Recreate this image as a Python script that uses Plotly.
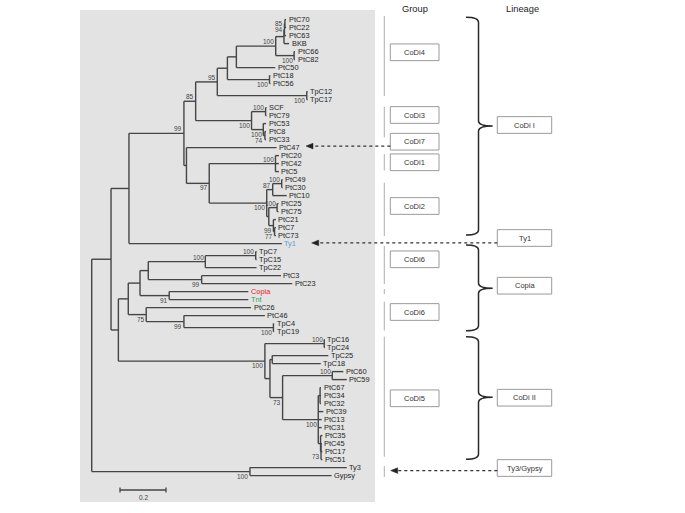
import plotly.graph_objects as go

# ---------------- data ----------------
leaf_names = ["PtC70", "PtC22", "PtC63", "BKB", "PtC66", "PtC82", "PtC50", "PtC18", "PtC56",
              "TpC12", "TpC17", "SCF", "PtC79", "PtC53", "PtC8", "PtC33", "PtC47", "PtC20",
              "PtC42", "PtC5", "PtC49", "PtC30", "PtC10", "PtC25", "PtC75", "PtC21", "PtC7",
              "PtC73", "Ty1", "TpC7", "TpC15", "TpC22", "PtC3", "PtC23", "Copia", "Tnt",
              "PtC26", "PtC46", "TpC4", "TpC19", "TpC16", "TpC24", "TpC25", "TpC18", "PtC60",
              "PtC59", "PtC67", "PtC34", "PtC32", "PtC39", "PtC13", "PtC31", "PtC35", "PtC45",
              "PtC17", "PtC51", "Ty3", "Gypsy"]
leaf_parent = ["n85b", "n85b", "n94", "nBKB", "n66", "n66", "n95b", "n18", "n18",
               "n12", "n12", "nSCF", "nSCF", "n53", "n833", "n833", "n47", "nC1",
               "nC1", "nC1", "n4930", "n4930", "n87", "n2575", "n2575", "n99b", "n77",
               "n77", "nTy1g", "nTp715", "nTp715", "nTp100", "nPt323", "nPt323", "nCT", "nCT",
               "n75", "n99c", "nTp419", "nTp419", "nTp1624", "nTp1624", "nTp2518", "nTp2518", "n6059",
               "n6059", "nP1", "nP1", "nP1", "nP", "nP", "nP", "nP3", "nP2",
               "nP2", "nP2", "nTy3G", "nTy3G"]
# distance of each tip from the root (substitutions per site)
leaf_depth = [0.845, 0.845, 0.845, 0.858, 0.884, 0.884, 0.798, 0.777, 0.777,
              0.939, 0.939, 0.760, 0.760, 0.758, 0.758, 0.758, 0.804, 0.814,
              0.814, 0.814, 0.830, 0.830, 0.848, 0.812, 0.812, 0.801, 0.801,
              0.801, 0.827, 0.717, 0.717, 0.717, 0.823, 0.872, 0.681, 0.681,
              0.693, 0.753, 0.793, 0.793, 1.014, 1.014, 1.029, 0.996, 1.094,
              1.109, 0.997, 0.997, 0.997, 1.007, 1.000, 1.000, 1.003, 1.001,
              1.003, 1.003, 1.109, 1.043]
leaf_colors = {"Ty1": "#5b9bd5", "Copia": "#e8212b", "Tnt": "#2aa55c"}

node_names = ["root", "nA", "nTy3G", "nTy1g", "nB", "n99t", "n85", "n95", "n95a", "n95b",
              "n100a", "nBKB", "n94", "n85b", "n66", "n18", "n12", "nC3", "nSCF", "n53",
              "n833", "n47", "n97", "nC1", "nC2", "n87", "n4930", "nC2b", "n2575", "n99b",
              "n77", "nCop", "nU", "nTp", "nTp100", "nTp715", "nPt323", "nCT", "n75", "n99c",
              "nTp419", "nC5", "nTp1624", "nA5", "nTp2518", "n73", "n6059", "nP", "nP1", "nP3",
              "nP2"]
node_parent = [None, "root", "root", "nA", "nA", "nTy1g", "n99t", "n85", "n95", "n95a",
               "n95b", "n100a", "nBKB", "n94", "n100a", "n95a", "n95", "n85", "nC3", "nC3",
               "n53", "n99t", "n47", "n97", "n97", "nC2", "n87", "nC2", "nC2b", "nC2b",
               "n99b", "nB", "nCop", "nU", "nTp", "nTp100", "nTp", "nU", "nCop", "n75",
               "n99c", "nB", "nC5", "nC5", "nA5", "nA5", "n73", "n73", "nP", "nP",
               "nP3"]
node_depth = [0.000, 0.084, 0.688, 0.162, 0.116, 0.401, 0.452, 0.546, 0.590, 0.629,
              0.800, 0.836, 0.838, 0.840, 0.880, 0.773, 0.935, 0.695, 0.756, 0.746,
              0.753, 0.412, 0.511, 0.799, 0.761, 0.787, 0.826, 0.770, 0.806, 0.790,
              0.795, 0.159, 0.210, 0.246, 0.494, 0.713, 0.478, 0.337, 0.237, 0.401,
              0.790, 0.753, 1.011, 0.775, 0.785, 0.830, 1.046, 0.985, 0.993, 0.995,
              0.997]
node_support = [None, None, 100, None, None, 99, 85, 95, None, None,
                100, None, 94, 85, 100, 100, 100, 100, 100, 100,
                74, None, 97, 100, 100, 87, 100, None, 100, 99,
                77, None, None, None, 100, 100, 99, 91, 75, 99,
                100, 100, 100, None, None, 73, 100, 100, None, None,
                73]
# where the bootstrap value sits relative to its node: a = above, b = below, m = level
node_label_side = ["", "", "b", "", "", "a", "a", "a", "", "",
                   "a", "", "m", "m", "b", "b", "b", "b", "a", "b",
                   "b", "", "b", "a", "b", "a", "a", "", "a", "b",
                   "b", "", "", "", "a", "a", "b", "b", "b", "b",
                   "b", "b", "a", "", "", "b", "a", "b", "", "",
                   "b"]

scale_length = 0.2

group_labels = ["CoDi4", "CoDi3", "CoDi7", "CoDi1", "CoDi2", "CoDi6", "CoDi6", "CoDi5"]
lineage_labels = ["CoDi I", "Ty1", "Copia", "CoDi II", "Ty3/Gypsy"]
arrow_targets = ["PtC47", "Ty1", "nTy3G"]

# ---------------- layout constants (pixels) ----------------
W, H = 685, 513
ROOT_PX, PX_PER_UNIT = 91.7, 230.0
LEAF0_PX, LEAF_STEP = 19.6, 8.0
FONT = "Liberation Sans, Arial, sans-serif"
LINE_C = "#454545"


def X(px):
    return (px - ROOT_PX) / PX_PER_UNIT


def Y(py):
    return 1 + (py - LEAF0_PX) / LEAF_STEP


group_box_py = [52.3, 115, 141.7, 162.3, 206, 259.3, 312, 398.3]
lineage_box_py = [125, 238, 285.7, 397.7, 468]
group_line_spans = [(16, 96), (106.7, 137.3), (154, 170.5), (182.7, 236), (246, 284),
                    (289, 294), (301.7, 330.5), (336.7, 456.7), (466, 477)]
brace_spans = [(17.3, 235, 126), (245, 330.7, 288.3), (336.7, 459.3, 397.3)]
arrow_from_px = [390.3, 497.3, 497.3]
arrow_tip_px = [306.0, 311.7, 390.7]
arrow_dy_px = [-1.5, -0.7, -1.0]

# ---------------- tree geometry ----------------
depth, parent, children = {}, {}, {}
for n, p, d in zip(leaf_names, leaf_parent, leaf_depth):
    depth[n], parent[n] = d, p
    children.setdefault(p, []).append(n)
for n, p, d in zip(node_names, node_parent, node_depth):
    depth[n], parent[n] = d, p
    if p is not None:
        children.setdefault(p, []).append(n)

ypos = {n: i + 1 for i, n in enumerate(leaf_names)}


def get_y(n):
    if n not in ypos:
        cy = [get_y(c) for c in children[n]]
        ypos[n] = (min(cy) + max(cy)) / 2
    return ypos[n]


for n in node_names:
    get_y(n)

xs, ys = [], []
for n in list(leaf_names) + node_names:
    p = parent[n]
    if p is not None:
        xs += [depth[p], depth[n], None]
        ys += [ypos[n], ypos[n], None]
for n in node_names:
    cy = [ypos[c] for c in children[n]]
    xs += [depth[n], depth[n], None]
    ys += [min(cy), max(cy), None]

fig = go.Figure()
fig.add_trace(go.Scatter(x=xs, y=ys, mode="lines", line=dict(color=LINE_C, width=1.4),
                         hoverinfo="skip"))

shapes = []
annotations = []

# gray panel behind the tree
shapes.append(dict(type="rect", xref="x", yref="y", x0=X(80), x1=X(375), y0=Y(10), y1=Y(502),
                   fillcolor="#e3e3e3", line=dict(width=0), layer="below"))

# leaf labels
for n in leaf_names:
    annotations.append(dict(x=depth[n], y=ypos[n], text=n, showarrow=False, xanchor="left",
                            yanchor="middle", xshift=1.5, borderpad=0,
                            font=dict(family=FONT, size=7.4, color=leaf_colors.get(n, "#222"))))

# bootstrap values
for n, s, side in zip(node_names, node_support, node_label_side):
    if s is None:
        continue
    ysh = {"a": 4.5, "b": -4.5, "m": 0}[side]
    annotations.append(dict(x=depth[n], y=ypos[n], text=str(s), showarrow=False, xanchor="right",
                            yanchor="middle", xshift=-0.5, yshift=ysh, borderpad=0,
                            font=dict(family=FONT, size=6.5, color="#444")))

# scale bar
sb_x0 = X(120)
sb_y = Y(490)
tk = 2.6 / LEAF_STEP
fig.add_trace(go.Scatter(x=[sb_x0, sb_x0 + scale_length, None, sb_x0, sb_x0, None,
                            sb_x0 + scale_length, sb_x0 + scale_length],
                         y=[sb_y, sb_y, None, sb_y - tk, sb_y + tk, None, sb_y - tk, sb_y + tk],
                         mode="lines", line=dict(color=LINE_C, width=1.3), hoverinfo="skip"))
annotations.append(dict(x=sb_x0 + scale_length / 2, y=Y(497.5), text=str(scale_length),
                        showarrow=False, xanchor="center", yanchor="middle",
                        font=dict(family=FONT, size=6.5, color="#444")))

# titles
annotations.append(dict(x=X(415), y=Y(9), text="Group", showarrow=False, xanchor="center",
                        yanchor="middle", font=dict(family=FONT, size=9.3, color="#222")))
annotations.append(dict(x=X(522), y=Y(9), text="Lineage", showarrow=False, xanchor="center",
                        yanchor="middle", font=dict(family=FONT, size=9.3, color="#222")))

# group guide lines
for a, b in group_line_spans:
    shapes.append(dict(type="line", xref="x", yref="y", x0=X(384.3), x1=X(384.3), y0=Y(a), y1=Y(b),
                       line=dict(color="#b0b0b0", width=1)))

BOX_H = 16.7
# group boxes
for lab, cy in zip(group_labels, group_box_py):
    shapes.append(dict(type="rect", xref="x", yref="y", x0=X(390.3), x1=X(439), y0=Y(cy - BOX_H / 2),
                       y1=Y(cy + BOX_H / 2), fillcolor="white", line=dict(color="#9a9a9a", width=1)))
    annotations.append(dict(x=X(414.6), y=Y(cy), text=lab, showarrow=False, xanchor="center",
                            yanchor="middle", font=dict(family=FONT, size=7.5, color="#333")))
# lineage boxes
for lab, cy in zip(lineage_labels, lineage_box_py):
    shapes.append(dict(type="rect", xref="x", yref="y", x0=X(497.3), x1=X(551.7), y0=Y(cy - BOX_H / 2),
                       y1=Y(cy + BOX_H / 2), fillcolor="white", line=dict(color="#9a9a9a", width=1)))
    annotations.append(dict(x=X(524.5), y=Y(cy), text=lab, showarrow=False, xanchor="center",
                            yanchor="middle", font=dict(family=FONT, size=7.5, color="#333")))

# curly braces
for top, bot, tip in brace_spans:
    x0, x1, x2 = X(466), X(478.5), X(492.7)
    r = 5
    path = (f"M {x0},{Y(top)} Q {x1},{Y(top)} {x1},{Y(top + r)} "
            f"L {x1},{Y(tip - r)} Q {x1},{Y(tip)} {x2},{Y(tip)} "
            f"Q {x1},{Y(tip)} {x1},{Y(tip + r)} "
            f"L {x1},{Y(bot - r)} Q {x1},{Y(bot)} {x0},{Y(bot)}")
    shapes.append(dict(type="path", xref="x", yref="y", path=path,
                       line=dict(color="#2a2a2a", width=1.5)))

# dotted arrows
for tgt, fx, tx, dy in zip(arrow_targets, arrow_from_px, arrow_tip_px, arrow_dy_px):
    ay = ypos[tgt] + dy / LEAF_STEP
    shapes.append(dict(type="line", xref="x", yref="y", x0=X(fx), x1=X(tx + 5), y0=ay, y1=ay,
                       line=dict(color="#333", width=1.2, dash="dot")))
    hh = 2.8 / LEAF_STEP
    shapes.append(dict(type="path", xref="x", yref="y",
                       path=f"M {X(tx)},{ay} L {X(tx + 7)},{ay - hh} L {X(tx + 7)},{ay + hh} Z",
                       fillcolor="#222", line=dict(color="#222", width=0.5)))

fig.update_layout(
    width=W, height=H, margin=dict(l=0, r=0, t=0, b=0, pad=0),
    paper_bgcolor="white", plot_bgcolor="white", showlegend=False,
    xaxis=dict(visible=False, range=[X(0), X(W)], fixedrange=True),
    yaxis=dict(visible=False, range=[Y(H), Y(0)], fixedrange=True),
    shapes=shapes, annotations=annotations,
)

fig.write_html("out.html", config={"displayModeBar": False},
               post_script="document.body.style.margin='0';")
